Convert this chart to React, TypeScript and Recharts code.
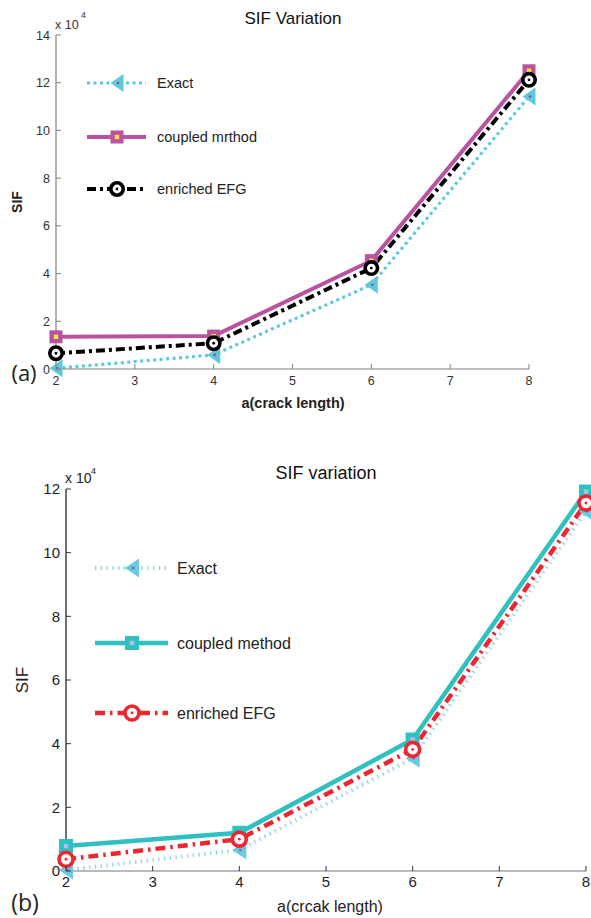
import React from 'react';
import { LineChart, Line, XAxis, YAxis, Legend } from 'recharts';

// ---------- data ----------
const crackLength = [2, 4, 6, 8];
const xTicks = [2, 3, 4, 5, 6, 7, 8];

const exactA = [300, 5900, 35300, 114200];
const coupledA = [13500, 13800, 45400, 125000];
const enrichedA = [6600, 10800, 42300, 121200];
const yTicksA = [0, 20000, 40000, 60000, 80000, 100000, 120000, 140000];
const namesA = ['Exact', 'coupled mrthod', 'enriched EFG'];

const exactB = [300, 6600, 35400, 113000];
const coupledB = [7850, 12000, 41300, 119200];
const enrichedB = [3700, 10000, 38200, 115600];
const yTicksB = [0, 20000, 40000, 60000, 80000, 100000, 120000];
const namesB = ['Exact', 'coupled method', 'enriched EFG'];

const dataA = crackLength.map((a, i) => ({ a, exact: exactA[i], coupled: coupledA[i], enriched: enrichedA[i] }));
const dataB = crackLength.map((a, i) => ({ a, exact: exactB[i], coupled: coupledB[i], enriched: enrichedB[i] }));

const FONT = 'Liberation Sans, Arial, Helvetica, sans-serif';
const fmtY = (v: number) => String(Math.round(v / 10000));
const fmtX = (v: number) => String(v);

// ---------- tick renderers (inward ticks, MATLAB style) ----------
type TickOpts = {
  side: 'bottom' | 'left' | 'top' | 'right';
  margin: number;
  len: number;
  color: string;
  label?: boolean;
  fontSize?: number;
  textColor?: string;
  fmt?: (v: number) => string;
};
const makeTick = (o: TickOpts) => (props: any) => {
  const { x, y, payload, index } = props;
  const v = payload.value;
  const fs = o.fontSize || 12;
  if (o.side === 'bottom') {
    const ay = y - o.margin;
    return (
      <g key={`tb${index}`}>
        <line x1={x} y1={ay} x2={x} y2={ay - o.len} stroke={o.color} strokeWidth={1} />
        {o.label && (
          <text x={x} y={y} dy="0.75em" textAnchor="middle" fontSize={fs} fill={o.textColor} fontFamily={FONT}>
            {o.fmt ? o.fmt(v) : v}
          </text>
        )}
      </g>
    );
  }
  if (o.side === 'top') {
    const ay = y + o.margin;
    return (
      <g key={`tt${index}`}>
        <line x1={x} y1={ay} x2={x} y2={ay + o.len} stroke={o.color} strokeWidth={1} />
      </g>
    );
  }
  if (o.side === 'left') {
    const ax = x + o.margin;
    return (
      <g key={`tl${index}`}>
        <line x1={ax} y1={y} x2={ax + o.len} y2={y} stroke={o.color} strokeWidth={1} />
        {o.label && (
          <text x={x} y={y} dy="0.36em" textAnchor="end" fontSize={fs} fill={o.textColor} fontFamily={FONT}>
            {o.fmt ? o.fmt(v) : v}
          </text>
        )}
      </g>
    );
  }
  const ax = x - o.margin;
  return (
    <g key={`tr${index}`}>
      <line x1={ax} y1={y} x2={ax - o.len} y2={y} stroke={o.color} strokeWidth={1} />
    </g>
  );
};

// ---------- markers ----------
const TriangleLeft = ({ cx, cy, w, h, fill, dot }: any) => (
  <g>
    <polygon points={`${cx - w / 2},${cy} ${cx + w / 2},${cy - h / 2} ${cx + w / 2},${cy + h / 2}`} fill={fill} />
    <circle cx={cx + 1} cy={cy} r={1.3} fill={dot} />
  </g>
);
const SquareMk = ({ cx, cy, s, fill, inner }: any) => (
  <g>
    <rect x={cx - s / 2} y={cy - s / 2} width={s} height={s} fill={fill} />
    <rect x={cx - 2.2} y={cy - 2.2} width={4.4} height={4.4} fill={inner} />
  </g>
);
const CircleMk = ({ cx, cy, r, stroke, sw, inner }: any) => (
  <g>
    <circle cx={cx} cy={cy} r={r} fill="#fff" stroke={stroke} strokeWidth={sw} />
    <circle cx={cx} cy={cy} r={1.4} fill={inner} />
  </g>
);

// ---------- styles per panel ----------
const styleA = {
  exact: { color: '#5fc9dc', width: 3.2, dash: '3 3.5' },
  coupled: { color: '#b9539f', width: 4, dash: undefined as string | undefined },
  enriched: { color: '#000000', width: 4, dash: '9 4 3 4' },
};
const styleB = {
  exact: { color: '#8ad6e6', width: 4, dash: '1.3 4.5' },
  coupled: { color: '#2fc0c0', width: 4.5, dash: undefined as string | undefined },
  enriched: { color: '#ee2630', width: 4.5, dash: '10 5 2.5 5' },
};

const markerA = {
  exact: (cx: number, cy: number) => <TriangleLeft cx={cx} cy={cy} w={13} h={18} fill="#5fc9dc" dot="#a0449a" />,
  coupled: (cx: number, cy: number) => <SquareMk cx={cx} cy={cy} s={13} fill="#b9539f" inner="#f6e43a" />,
  enriched: (cx: number, cy: number) => <CircleMk cx={cx} cy={cy} r={6.2} stroke="#000" sw={3.6} inner="#000" />,
};
const markerB = {
  exact: (cx: number, cy: number) => <TriangleLeft cx={cx} cy={cy} w={14} h={19} fill="#68cade" dot="#9b4aa8" />,
  coupled: (cx: number, cy: number) => <SquareMk cx={cx} cy={cy} s={14} fill="#2fc0c0" inner="#b5bde6" />,
  enriched: (cx: number, cy: number) => <CircleMk cx={cx} cy={cy} r={7} stroke="#ee2630" sw={3.6} inner="#ee2630" />,
};

const dotFn = (mk: (cx: number, cy: number) => React.ReactElement, id: string) => (p: any) => (
  <g key={`${id}-${p.index}`}>{mk(p.cx, p.cy)}</g>
);

// ---------- legend ----------
const makeLegend = (
  names: string[],
  rows: number[],
  x0: number,
  x1: number,
  mx: number,
  tx: number,
  fs: number,
  st: any,
  mk: any,
) => () => {
  const keys = ['exact', 'coupled', 'enriched'];
  return (
    <svg width={360} height={rows[2] + 30} style={{ overflow: 'visible' }}>
      {keys.map((k, i) => (
        <g key={k}>
          <line x1={x0} y1={rows[i]} x2={x1} y2={rows[i]} stroke={st[k].color} strokeWidth={st[k].width} strokeDasharray={st[k].dash} />
          {mk[k](mx, rows[i])}
          <text x={tx} y={rows[i]} dy="0.36em" fontSize={fs} fill="#222" fontFamily={FONT}>
            {names[i]}
          </text>
        </g>
      ))}
    </svg>
  );
};

// ---------- one panel ----------
type PanelProps = {
  data: any[];
  width: number;
  height: number;
  margin: { top: number; right: number; bottom: number; left: number };
  yWidth: number;
  xHeight: number;
  yDomain: [number, number];
  yTicks: number[];
  st: any;
  mk: any;
  order: string[];
  names: string[];
  axisColors: { left: string; bottom: string; top: string; right: string };
  tickColor: string;
  tickLen: number;
  fontSize: number;
  textColor: string;
  xMargin: number;
  legend: () => React.ReactElement;
};

const Panel = (p: PanelProps) => (
  <LineChart width={p.width} height={p.height} data={p.data} margin={p.margin}>
    <XAxis
      xAxisId="b"
      dataKey="a"
      type="number"
      domain={[2, 8]}
      ticks={xTicks}
      height={p.xHeight}
      axisLine={{ stroke: p.axisColors.bottom, strokeWidth: 1.2 }}
      tickLine={false}
      tickSize={0}
      tickMargin={p.xMargin}
      interval={0}
      tick={makeTick({ side: 'bottom', margin: p.xMargin, len: p.tickLen, color: p.tickColor, label: true, fontSize: p.fontSize, textColor: p.textColor, fmt: fmtX })}
    />
    <XAxis
      xAxisId="t"
      orientation="top"
      dataKey="a"
      type="number"
      domain={[2, 8]}
      ticks={xTicks}
      height={0}
      axisLine={{ stroke: p.axisColors.top, strokeWidth: 1.2 }}
      tickLine={false}
      tickSize={0}
      tickMargin={0}
      interval={0}
      tick={makeTick({ side: 'top', margin: 0, len: p.tickLen, color: p.tickColor })}
    />
    <YAxis
      yAxisId="l"
      type="number"
      domain={p.yDomain}
      ticks={p.yTicks}
      width={p.yWidth}
      axisLine={{ stroke: p.axisColors.left, strokeWidth: 1.2 }}
      tickLine={false}
      tickSize={0}
      tickMargin={6}
      interval={0}
      tick={makeTick({ side: 'left', margin: 6, len: p.tickLen, color: p.tickColor, label: true, fontSize: p.fontSize, textColor: p.textColor, fmt: fmtY })}
    />
    <YAxis
      yAxisId="r"
      orientation="right"
      type="number"
      domain={p.yDomain}
      ticks={p.yTicks}
      width={0}
      axisLine={{ stroke: p.axisColors.right, strokeWidth: 1.2 }}
      tickLine={false}
      tickSize={0}
      tickMargin={0}
      interval={0}
      tick={makeTick({ side: 'right', margin: 0, len: p.tickLen, color: p.tickColor })}
    />
    <Legend
      layout="horizontal"
      verticalAlign="middle"
      align="center"
      content={p.legend}
      wrapperStyle={{ left: 0, top: 0, width: 360, height: 0, pointerEvents: 'none' }}
    />
    {p.order.map((k) => (
      <Line
        key={k}
        xAxisId="b"
        yAxisId="l"
        dataKey={k}
        name={p.names[['exact', 'coupled', 'enriched'].indexOf(k)]}
        stroke={p.st[k].color}
        strokeWidth={p.st[k].width}
        strokeDasharray={p.st[k].dash}
        strokeLinejoin="miter"
        dot={dotFn(p.mk[k], k)}
        activeDot={false}
        isAnimationActive={false}
      />
    ))}
  </LineChart>
);

export default function App() {
  return (
    <div style={{ position: 'absolute', left: 0, top: 0, width: 591, height: 918, background: '#fff', overflow: 'hidden', fontFamily: FONT }}>
      {/* Panel (a) */}
      <div style={{ position: 'absolute', left: 0, top: 0, width: 591, height: 430 }}>
        <Panel
          data={dataA}
          width={591}
          height={430}
          margin={{ top: 35, right: 62, bottom: 0, left: 0 }}
          yWidth={56}
          xHeight={61}
          yDomain={[0, 140000]}
          yTicks={yTicksA}
          st={styleA}
          mk={markerA}
          order={['exact', 'coupled', 'enriched']}
          names={namesA}
          axisColors={{ left: '#808080', bottom: '#808080', top: '#808080', right: '#808080' }}
          tickColor="#808080"
          tickLen={5}
          fontSize={12.5}
          textColor="#333"
          xMargin={7}
          legend={makeLegend(namesA, [83, 137, 189], 87, 146, 117, 157, 14.5, styleA, markerA)}
        />
        <svg width={591} height={430} style={{ position: 'absolute', left: 0, top: 0, pointerEvents: 'none' }}>
          <text x={293} y={18} dy="0.36em" textAnchor="middle" fontSize={17} fill="#111" fontFamily={FONT}>SIF Variation</text>
          <text x={55} y={24} dy="0.36em" fontSize={12.5} fill="#333" fontFamily={FONT}>x 10</text>
          <text x={81} y={15} dy="0.36em" fontSize={8.5} fill="#333" fontFamily={FONT}>4</text>
          <text x={293} y={403} dy="0.36em" textAnchor="middle" fontSize={14.5} fontWeight="bold" fill="#222" fontFamily={FONT}>a(crack length)</text>
          <text x={17} y={202} dy="0.36em" textAnchor="middle" fontSize={14} fontWeight="bold" fill="#222" fontFamily={FONT} transform="rotate(-90 17 202)">SIF</text>
          <text x={24} y={373} dy="0.36em" textAnchor="middle" fontSize={22} fill="#222" fontFamily="Open Sans, Noto Sans, sans-serif">(a)</text>
        </svg>
      </div>
      {/* Panel (b) */}
      <div style={{ position: 'absolute', left: 0, top: 440, width: 591, height: 478 }}>
        <Panel
          data={dataB}
          width={591}
          height={478}
          margin={{ top: 49, right: 5, bottom: 0, left: 0 }}
          yWidth={66}
          xHeight={47}
          yDomain={[0, 120000]}
          yTicks={yTicksB}
          st={styleB}
          mk={markerB}
          order={['coupled', 'exact', 'enriched']}
          names={namesB}
          axisColors={{ left: '#111', bottom: '#777', top: '#666', right: '#222' }}
          tickColor="#333"
          tickLen={5}
          fontSize={15}
          textColor="#1d1d28"
          xMargin={5}
          legend={makeLegend(namesB, [128, 203, 273], 95, 168, 132, 177, 16, styleB, markerB)}
        />
        <svg width={591} height={478} style={{ position: 'absolute', left: 0, top: 0, pointerEvents: 'none' }}>
          <text x={326} y={33} dy="0.36em" textAnchor="middle" fontSize={18} fill="#111" fontFamily={FONT}>SIF variation</text>
          <text x={65} y={38} dy="0.36em" fontSize={14} fill="#222" fontFamily={FONT}>x 10</text>
          <text x={91} y={31} dy="0.36em" fontSize={9} fill="#222" fontFamily={FONT}>4</text>
          <text x={330} y={466} dy="0.36em" textAnchor="middle" fontSize={16} fill="#222" fontFamily={FONT}>a(crcak length)</text>
          <text x={22} y={240} dy="0.36em" textAnchor="middle" fontSize={17} fill="#222" fontFamily={FONT} transform="rotate(-90 22 240)">SIF</text>
          <text x={25} y={463} dy="0.36em" textAnchor="middle" fontSize={23} fill="#222" fontFamily="Open Sans, Noto Sans, sans-serif">(b)</text>
        </svg>
      </div>
    </div>
  );
}
